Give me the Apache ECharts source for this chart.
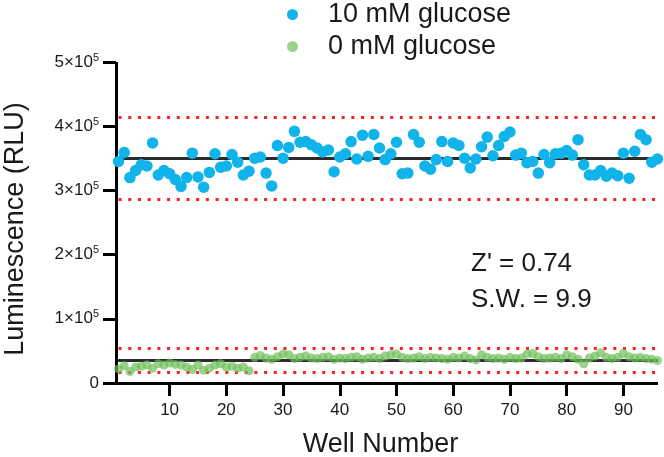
<!DOCTYPE html>
<html>
<head>
<meta charset="utf-8">
<script src="https://cdn.jsdelivr.net/npm/echarts@6/dist/echarts.min.js"></script>
<style>html,body{margin:0;padding:0;background:#fff;}#c{width:664px;height:457px;}</style>
</head>
<body>
<div id="c"></div>
<script>
// ---- data ----
const wells = Array.from({length: 96}, (_, i) => i + 1);
const glucose10 = [3.45,3.59,3.20,3.31,3.40,3.38,3.74,3.24,3.31,3.26,3.17,3.06,3.20,3.58,3.21,3.05,
  3.28,3.57,3.36,3.38,3.56,3.44,3.24,3.30,3.50,3.52,3.27,3.07,3.70,3.50,3.67,3.92,
  3.75,3.76,3.71,3.66,3.60,3.63,3.29,3.52,3.57,3.76,3.49,3.86,3.53,3.87,3.66,3.48,
  3.57,3.75,3.26,3.27,3.87,3.75,3.38,3.33,3.48,3.76,3.45,3.74,3.70,3.50,3.35,3.49,
  3.68,3.83,3.54,3.70,3.84,3.91,3.55,3.58,3.43,3.45,3.27,3.56,3.43,3.57,3.58,3.62,
  3.55,3.79,3.40,3.24,3.24,3.31,3.22,3.27,3.23,3.58,3.19,3.61,3.87,3.79,3.44,3.49]; // x1e5 RLU
const glucose0 = [0.22,0.27,0.18,0.25,0.26,0.28,0.23,0.30,0.28,0.31,0.29,0.28,0.25,0.21,0.28,0.20,
  0.23,0.28,0.30,0.25,0.26,0.23,0.25,0.19,0.40,0.43,0.39,0.37,0.41,0.45,0.44,0.38,
  0.40,0.42,0.39,0.38,0.40,0.41,0.37,0.39,0.38,0.40,0.41,0.37,0.39,0.40,0.38,0.42,
  0.44,0.45,0.40,0.38,0.39,0.41,0.38,0.40,0.39,0.38,0.37,0.40,0.39,0.42,0.38,0.36,
  0.44,0.40,0.38,0.39,0.37,0.40,0.38,0.39,0.45,0.46,0.41,0.38,0.39,0.40,0.38,0.44,
  0.41,0.37,0.30,0.39,0.42,0.47,0.40,0.38,0.40,0.46,0.41,0.39,0.40,0.38,0.37,0.35]; // x1e5 RLU
const seriesNames = ['10 mM glucose', '0 mM glucose'];
const meanLines = [350000, 35500];            // black mean lines
const limitLines10 = [414000, 286000];        // red dotted, 10 mM
const limitLines0 = [54000, 16500];           // red dotted, 0 mM
const yTickValues = [0, 100000, 200000, 300000, 400000, 500000];
const yTickLabels = ['0', '1×10', '2×10', '3×10', '4×10', '5×10'];
const xTickValues = [10, 20, 30, 40, 50, 60, 70, 80, 90];
const xAxisStart = 0.55, xAxisEnd = 96.1;     // where the drawn axes start / end (wells)
const yAxisStart = 0, yAxisEnd = 500000;      // RLU
const xScaleMin = -1.744, yScaleMin = -20250; // scale extends past the axes to hold the outward ticks
const statsText = ["Z' = 0.74", 'S.W. = 9.9'];

const FONT = '"Liberation Sans", Arial, sans-serif';
const TXT = '#1a1a1a';
const toPairs = arr => arr.map((v, i) => [wells[i], v * 1e5]);
const seg = (a, b, style) => [{coord: a, lineStyle: style}, {coord: b}];
const blackSolid = {color: '#000', width: 3, type: 'solid'};
const meanStyle = {color: '#2b2b2b', width: 3, type: 'solid'};
const redStyle = {color: '#ff1f1f', width: 3, type: [3, 6.7]};

const chart = echarts.init(document.getElementById('c'));

chart.setOption({
  animation: false,
  backgroundColor: '#fff',
  grid: {left: 103, right: 6, top: 62, bottom: 61, containLabel: false, outerBoundsMode: 'none'},
  legend: {
    data: seriesNames,
    orient: 'vertical',
    left: 282, top: -4,
    icon: 'circle',
    itemWidth: 11, itemHeight: 11,
    itemGap: 5,
    textStyle: {fontSize: 27, color: TXT, fontFamily: FONT, padding: [0, 0, 0, 25]}
  },
  xAxis: {
    type: 'value', min: xScaleMin, max: xAxisEnd,
    name: 'Well Number', nameLocation: 'middle', nameGap: 35,
    nameTextStyle: {fontSize: 27, color: TXT, fontFamily: FONT},
    splitLine: {show: false},
    axisLine: {show: false, onZero: false},
    axisTick: {show: false},
    axisLabel: {fontSize: 17, color: TXT, margin: 6, customValues: xTickValues, fontFamily: FONT}
  },
  yAxis: {
    type: 'value', min: yScaleMin, max: yAxisEnd,
    name: 'Luminescence (RLU)', nameLocation: 'middle', nameGap: 74, nameRotate: 90,
    nameTextStyle: {fontSize: 27, color: TXT, fontFamily: FONT},
    splitLine: {show: false},
    axisLine: {show: false, onZero: false},
    axisTick: {show: false},
    axisLabel: {
      margin: 4, color: TXT, fontFamily: FONT, customValues: yTickValues,
      formatter: v => {
        const i = yTickValues.indexOf(v);
        if (i < 0) return '';
        const t = yTickLabels[i];
        return v === 0 ? '{n|' + t + '}' : '{n|' + t + '}{s|5}';
      },
      rich: {
        n: {fontSize: 17, color: TXT, fontFamily: FONT, lineHeight: 20},
        s: {fontSize: 11, color: TXT, fontFamily: FONT, verticalAlign: 'top', lineHeight: 10}
      }
    }
  },
  graphic: [
    {type: 'text', left: 471, top: 251, style: {text: statsText[0], fontSize: 26, fill: TXT, fontFamily: FONT}},
    {type: 'text', left: 471, top: 287, style: {text: statsText[1], fontSize: 26, fill: TXT, fontFamily: FONT}}
  ],
  series: [
    {
      // axes, ticks, mean lines and control limits
      name: '__lines', type: 'line', data: [], z: 1, silent: true, clip: false,
      markLine: {
        z: 1, silent: true, symbol: 'none', label: {show: false}, animation: false,
        data: [
          seg([xAxisStart, meanLines[0]], [xAxisEnd, meanLines[0]], meanStyle),
          seg([xAxisStart, meanLines[1]], [xAxisEnd, meanLines[1]], meanStyle),
          ...[limitLines10[0], limitLines10[1], limitLines0[0], limitLines0[1]]
            .map(v => seg([wells[0], v], [wells[wells.length - 1], v], redStyle)),
          seg([xAxisStart, yAxisStart], [xAxisEnd, yAxisStart], blackSolid),
          seg([xAxisStart, yAxisStart], [xAxisStart, yAxisEnd], blackSolid),
          ...xTickValues.map(v => seg([v, yAxisStart], [v, yScaleMin], blackSolid)),
          ...yTickValues.map(v => seg([xAxisStart, v], [xScaleMin, v], blackSolid))
        ]
      }
    },
    {
      name: seriesNames[0], type: 'scatter', z: 3,
      symbolSize: 11.5,
      itemStyle: {color: '#10b4ea', opacity: 1},
      data: toPairs(glucose10)
    },
    {
      name: seriesNames[1], type: 'scatter', z: 3,
      symbolSize: 9,
      itemStyle: {color: '#6dbf5a', opacity: 0.7},
      data: toPairs(glucose0)
    }
  ]
});
</script>
</body>
</html>
